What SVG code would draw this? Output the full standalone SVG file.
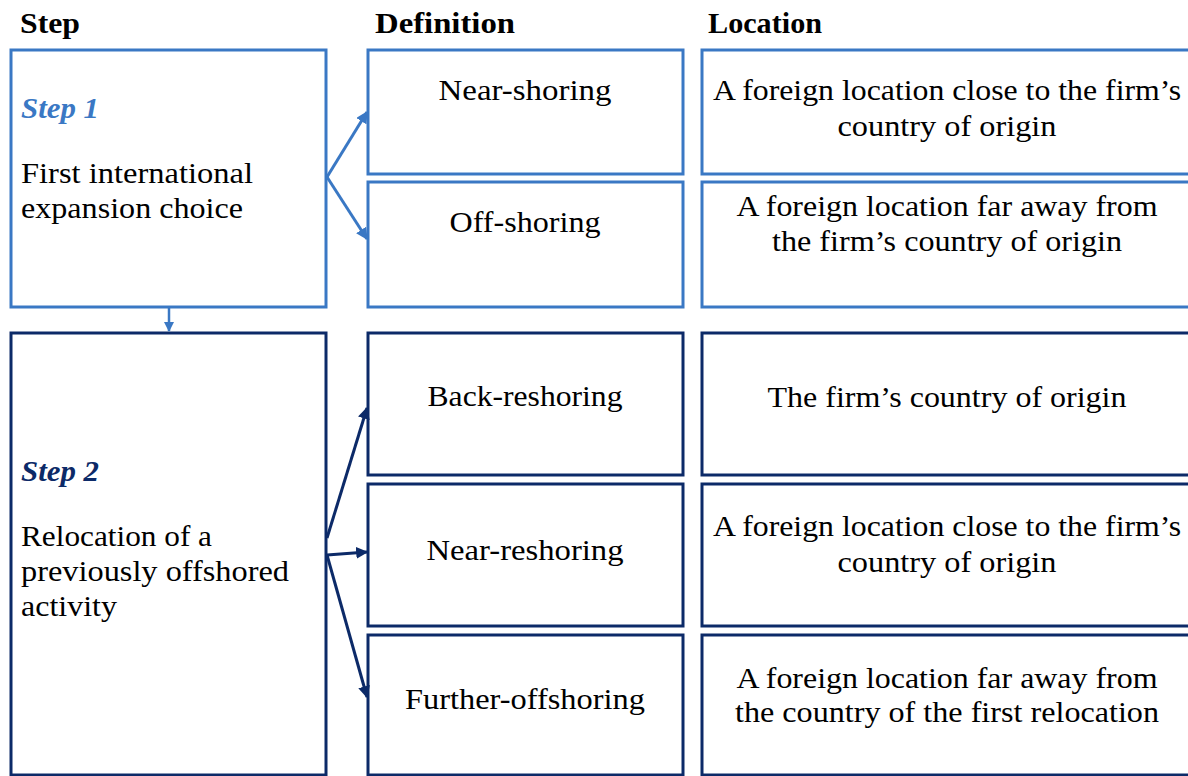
<svg xmlns="http://www.w3.org/2000/svg" width="1188" height="776" viewBox="0 0 1188 776">
<defs>
<style>
.t{font-family:"Liberation Serif","Times New Roman",serif;font-size:30px;fill:#000}
.c{text-anchor:middle}
.h{font-family:"Liberation Serif",serif;font-size:29px;font-weight:bold;fill:#000}
.b1{fill:#fff;stroke:#3a78c4;stroke-width:3}
.b2{fill:#fff;stroke:#0c2a68;stroke-width:3}
.s1{font-style:italic;font-weight:bold;fill:#3a78c4}
.s2{font-style:italic;font-weight:bold;fill:#0c2a68}
.a1{stroke:#3a78c4;stroke-width:3;fill:none}
.a2{stroke:#0c2a68;stroke-width:3;fill:none}
</style>
<marker id="m1" viewBox="0 0 10 10" refX="9" refY="5" markerWidth="4" markerHeight="4" orient="auto" markerUnits="strokeWidth"><path d="M0,0 L10,5 L0,10 z" fill="#3a78c4"/></marker>
<marker id="m2" viewBox="0 0 10 10" refX="9" refY="5" markerWidth="4" markerHeight="4" orient="auto" markerUnits="strokeWidth"><path d="M0,0 L10,5 L0,10 z" fill="#0c2a68"/></marker>
</defs>
<rect width="1188" height="776" fill="#fff"/>
<g id="headers">
<text class="h" x="20" y="33" textLength="60" lengthAdjust="spacingAndGlyphs">Step</text>
<text class="h" x="375" y="33" textLength="140" lengthAdjust="spacingAndGlyphs">Definition</text>
<text class="h" x="708" y="33" textLength="114" lengthAdjust="spacingAndGlyphs">Location</text>
</g>
<g id="step1">
<rect class="b1" x="11" y="50" width="315" height="257"/>
<text class="t s1" x="21" y="118" textLength="78" lengthAdjust="spacingAndGlyphs">Step 1</text>
<text class="t" x="21" y="183" textLength="232" lengthAdjust="spacingAndGlyphs">First international</text>
<text class="t" x="21" y="218" textLength="222" lengthAdjust="spacingAndGlyphs">expansion choice</text>
</g>
<g id="near-shoring">
<rect class="b1" x="368" y="50" width="315" height="124"/>
<text class="t c" x="525" y="100" textLength="173" lengthAdjust="spacingAndGlyphs">Near-shoring</text>
</g>
<g id="off-shoring">
<rect class="b1" x="368" y="182" width="315" height="125"/>
<text class="t c" x="525" y="232" textLength="151" lengthAdjust="spacingAndGlyphs">Off-shoring</text>
</g>
<g id="loc-near-shoring">
<rect class="b1" x="702" y="50" width="490" height="124"/>
<text class="t c" x="947" y="100" textLength="468" lengthAdjust="spacingAndGlyphs">A foreign location close to the firm’s</text>
<text class="t c" x="947" y="136" textLength="219" lengthAdjust="spacingAndGlyphs">country of origin</text>
</g>
<g id="loc-off-shoring">
<rect class="b1" x="702" y="182" width="490" height="125"/>
<text class="t c" x="947" y="216" textLength="421" lengthAdjust="spacingAndGlyphs">A foreign location far away from</text>
<text class="t c" x="947" y="251" textLength="350" lengthAdjust="spacingAndGlyphs">the firm’s country of origin</text>
</g>
<g id="step2">
<rect class="b2" x="11" y="333" width="315" height="442"/>
<text class="t s2" x="21" y="481" textLength="78" lengthAdjust="spacingAndGlyphs">Step 2</text>
<text class="t" x="21" y="546" textLength="191" lengthAdjust="spacingAndGlyphs">Relocation of a</text>
<text class="t" x="21" y="581" textLength="268" lengthAdjust="spacingAndGlyphs">previously offshored</text>
<text class="t" x="21" y="616" textLength="96" lengthAdjust="spacingAndGlyphs">activity</text>
</g>
<g id="back-reshoring">
<rect class="b2" x="368" y="333" width="315" height="142"/>
<text class="t c" x="525" y="406" textLength="195" lengthAdjust="spacingAndGlyphs">Back-reshoring</text>
</g>
<g id="near-reshoring">
<rect class="b2" x="368" y="484" width="315" height="142"/>
<text class="t c" x="525" y="560" textLength="197" lengthAdjust="spacingAndGlyphs">Near-reshoring</text>
</g>
<g id="further-offshoring">
<rect class="b2" x="368" y="635" width="315" height="140"/>
<text class="t c" x="525" y="709" textLength="240" lengthAdjust="spacingAndGlyphs">Further-offshoring</text>
</g>
<g id="loc-back-reshoring">
<rect class="b2" x="702" y="333" width="490" height="142"/>
<text class="t c" x="947" y="407" textLength="359" lengthAdjust="spacingAndGlyphs">The firm’s country of origin</text>
</g>
<g id="loc-near-reshoring">
<rect class="b2" x="702" y="484" width="490" height="142"/>
<text class="t c" x="947" y="536" textLength="468" lengthAdjust="spacingAndGlyphs">A foreign location close to the firm’s</text>
<text class="t c" x="947" y="572" textLength="219" lengthAdjust="spacingAndGlyphs">country of origin</text>
</g>
<g id="loc-further-offshoring">
<rect class="b2" x="702" y="635" width="490" height="140"/>
<text class="t c" x="947" y="688" textLength="421" lengthAdjust="spacingAndGlyphs">A foreign location far away from</text>
<text class="t c" x="947" y="722" textLength="424" lengthAdjust="spacingAndGlyphs">the country of the first relocation</text>
</g>
<g id="connectors">
<line class="a1" x1="327" y1="177" x2="367" y2="112" marker-end="url(#m1)"/>
<line class="a1" x1="327" y1="177" x2="367" y2="239" marker-end="url(#m1)"/>
<line x1="169" y1="308" x2="169" y2="331" stroke="#3a78c4" stroke-width="2.5" marker-end="url(#m1)"/>
<line class="a2" x1="327" y1="538" x2="367" y2="408" marker-end="url(#m2)"/>
<line class="a2" x1="327" y1="555" x2="367" y2="552" marker-end="url(#m2)"/>
<line class="a2" x1="327" y1="555" x2="367" y2="697" marker-end="url(#m2)"/>
</g>
</svg>
